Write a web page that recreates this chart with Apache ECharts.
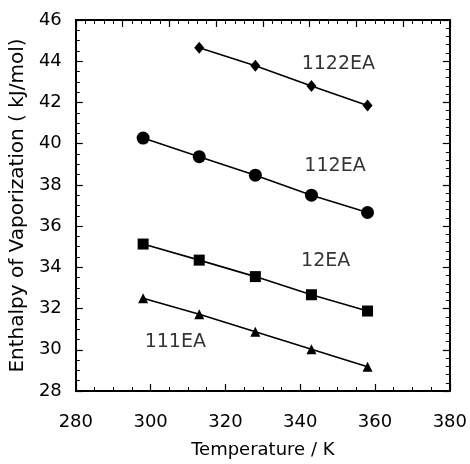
<!DOCTYPE html>
<html><head><meta charset="utf-8">
<script src="https://cdn.jsdelivr.net/npm/echarts@6/dist/echarts.min.js"></script>
<style>html,body{margin:0;padding:0;background:#fff}#c{width:470px;height:464px}</style>
</head><body><div id="c"></div>
<script>
var temps = [298, 313, 328, 343, 358];
var s1122EA = [null, 44.65, 43.78, 42.8, 41.85];
var s112EA = [40.27, 39.37, 38.47, 37.5, 36.66];
var s12EA = [35.13, 34.35, 33.55, 32.67, 31.88];
var s111EA = [32.5, 31.72, 30.87, 30.03, 29.18];
var seriesNames = ['1122EA', '112EA', '12EA', '111EA'];
var labelPos = [[350.2, 43.85], [349.3, 38.93], [346.8, 34.28], [306.6, 30.36]];
var xTicks = [280, 300, 320, 340, 360, 380];
var yTicks = [28, 30, 32, 34, 36, 38, 40, 42, 44, 46];

function pairs(vals) {
  var out = [];
  for (var i = 0; i < temps.length; i++) if (vals[i] != null) out.push([temps[i], vals[i]]);
  return out;
}
var font = 'DejaVu Sans, sans-serif';
var chart = echarts.init(document.getElementById('c'), null, {renderer: 'canvas'});
function lineSeries(vals, sym, size) {
  return {
    type: 'line', data: pairs(vals), symbol: sym, symbolSize: size,
    lineStyle: {color: '#000', width: 1.6}, itemStyle: {color: '#000'},
    showAllSymbol: true, animation: false, z: 3
  };
}
var axLine = {show: true, lineStyle: {color: '#000', width: 2}};
var majTick = {show: true, inside: true, length: 7, lineStyle: {color: '#000', width: 1.2}};
function minTick(n) { return {show: true, splitNumber: n, length: 4, lineStyle: {color: '#000', width: 1}}; }
chart.setOption({
  animation: false,
  grid: {left: 74, right: 17, top: 20, bottom: 68},
  xAxis: [{
    type: 'value', min: xTicks[0], max: xTicks[xTicks.length - 1], interval: 20,
    name: 'Temperature / K', nameLocation: 'middle', nameGap: 50,
    nameTextStyle: {fontFamily: font, fontSize: 18, color: '#000'},
    axisLine: axLine, axisTick: majTick, minorTick: minTick(4),
    axisLabel: {fontFamily: font, fontSize: 18, color: '#000', margin: 22},
    splitLine: {show: false}
  }, {
    type: 'value', position: 'top', min: 0, max: 8, interval: 1,
    axisLine: axLine, axisTick: majTick, minorTick: minTick(5),
    axisLabel: {show: false}, splitLine: {show: false}
  }],
  yAxis: [{
    type: 'value', min: yTicks[0], max: yTicks[yTicks.length - 1], interval: 2,
    name: 'Enthalpy of Vaporization ( kJ/mol)', nameLocation: 'middle', nameGap: 44,
    nameTextStyle: {fontFamily: font, fontSize: 20, color: '#000'},
    axisLine: axLine, axisTick: majTick, minorTick: minTick(4),
    axisLabel: {fontFamily: font, fontSize: 18, color: '#000', margin: 14},
    splitLine: {show: false}
  }, {
    type: 'value', position: 'right', min: 0, max: 9, interval: 1,
    axisLine: axLine, axisTick: majTick, minorTick: minTick(5),
    axisLabel: {show: false}, splitLine: {show: false}
  }],
  series: [
    lineSeries(s1122EA, 'diamond', [10, 12]),
    lineSeries(s112EA, 'circle', 13),
    lineSeries(s12EA, 'rect', 11),
    lineSeries(s111EA, 'triangle', 10),
    {
      type: 'scatter', symbolSize: 0, z: 4, silent: true,
      data: labelPos.map(function (p, i) { return {value: p, name: seriesNames[i]}; }),
      label: {show: true, position: 'inside', formatter: '{b}', fontFamily: font, fontSize: 19,
              color: '#000', textBorderWidth: 0}
    }
  ]
});
</script></body></html>
